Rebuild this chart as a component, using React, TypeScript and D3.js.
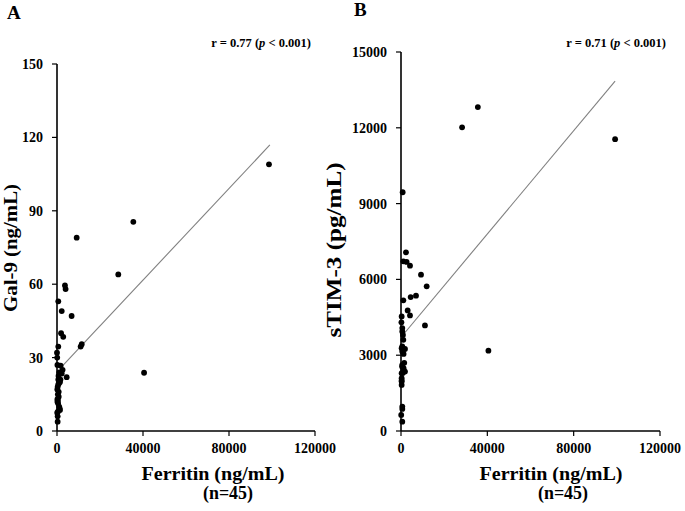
import React from "react";
import * as d3 from "d3";

const xTicks = [0, 40000, 80000, 120000];
const yTicksA = [0, 30, 60, 90, 120, 150];
const yTicksB = [0, 3000, 6000, 9000, 12000, 15000];

const ferritinA = [98600, 35500, 9150, 28500, 3700, 4000, 600, 2200, 6800, 1900, 2900, 11500, 11000, 600, 0, 1700, 2600, 1100, 2200, 40500, 4500, 600, 1400, 600, 150, 400, 800, 200, 500, 1200, 500, 100, 1400, 300, 300, 800, 200, 1000, 300, 700, 200, 900, 400, 1600, 100];
const gal9 = [109, 85.5, 79, 64, 59.5, 58, 53, 49, 47, 40, 38.5, 35.5, 34.5, 34.5, 32, 26.7, 25, 24, 23.5, 23.8, 22, 21, 20, 19, 17, 15, 14, 12, 11.3, 9.3, 8, 7.5, 8.6, 3.8, 18, 16, 13, 10, 6, 22.5, 27, 19.5, 12.5, 21, 30];

const ferritinB = [770, 2300, 1080, 2600, 4170, 9270, 11900, 6950, 4480, 1080, 3090, 4170, 11100, 300, 600, 600, 1080, 300, 1080, 1850, 600, 40500, 600, 1200, 1850, 300, 1080, 300, 300, 300, 600, 600, 100, 600, 99200, 35600, 28300, 500, 800, 1200, 300, 600, 1500, 200, 900];
const stim3 = [9450, 7070, 6716, 6690, 6544, 6187, 5724, 5354, 5300, 5170, 4772, 4574, 4177, 4534, 4072, 3940, 3609, 3280, 3213, 3250, 3146, 3180, 2618, 2485, 2353, 2287, 2419, 2089, 1957, 1824, 965, 873, 635, 370, 11550, 12820, 12020, 2550, 2300, 3050, 2000, 3350, 2700, 4300, 3800];

const trendA = [[2000, 26.1], [99000, 116.9]];
const trendB = [[800, 3790], [99200, 13850]];

const FONT = "'Liberation Serif', 'Times New Roman', serif";

type PanelProps = {
  letter: string;
  letterX: number;
  letterY: number;
  xs: number[];
  ys: number[];
  yTicks: number[];
  yMax: number;
  trend: number[][];
  x0: number;
  x1: number;
  y0: number;
  y1: number;
  yLabel: string;
  yLabelX: number;
  yLabelCy: number;
  yLabelSize: number;
  yLabelLen: number;
  rText: string;
  rEndX: number;
  xLabelCx: number;
  nCx: number;
};

function Panel(p: PanelProps) {
  const x = d3.scaleLinear().domain([0, 120000]).range([p.x0, p.x1]);
  const y = d3.scaleLinear().domain([0, p.yMax]).range([p.y0, p.y1]);
  const line = d3.line<number[]>().x((d) => x(d[0])).y((d) => y(d[1]));
  const [r0, r1] = p.rText.split("|");
  return (
    <g fontFamily={FONT} fontWeight="bold" fill="#000">
      <text x={p.letterX} y={p.letterY} fontSize={19}>{p.letter}</text>
      <text x={p.rEndX} y={47} fontSize={12.5} textAnchor="end">
        {r0}<tspan fontStyle="italic">p</tspan>{r1}
      </text>
      <line x1={p.x0} x2={p.x0} y1={p.y0} y2={p.y1} stroke="#000" strokeWidth={1.6} />
      {p.yTicks.map((t) => (
        <g key={"y" + t}>
          <line x1={p.x0 - 5} x2={p.x0} y1={y(t)} y2={y(t)} stroke="#000" strokeWidth={1.2} />
          <text x={p.x0 - 14} y={y(t) + 5} fontSize={14} textAnchor="end">{t}</text>
        </g>
      ))}
      <line x1={p.x0} x2={p.x1} y1={p.y0} y2={p.y0} stroke="#000" strokeWidth={1.6} />
      {xTicks.map((t) => (
        <g key={"x" + t}>
          <line x1={x(t)} x2={x(t)} y1={p.y0} y2={p.y0 + 5} stroke="#000" strokeWidth={1.2} />
          <text x={x(t)} y={453} fontSize={14} textAnchor="middle">{t}</text>
        </g>
      ))}
      <text x={p.xLabelCx} y={480} fontSize={19} textAnchor="middle" textLength={143} lengthAdjust="spacingAndGlyphs">Ferritin (ng/mL)</text>
      <text x={p.nCx} y={499} fontSize={19} textAnchor="middle" textLength={50} lengthAdjust="spacingAndGlyphs">(n=45)</text>
      <text transform={`translate(${p.yLabelX},${p.yLabelCy}) rotate(-90)`} fontSize={p.yLabelSize} textAnchor="middle"
        textLength={p.yLabelLen} lengthAdjust="spacingAndGlyphs">{p.yLabel}</text>
      <path d={line(p.trend) || ""} stroke="#7f7f7f" strokeWidth={1.1} fill="none" />
      {p.xs.map((v, i) => (
        <circle key={i} cx={x(v)} cy={y(p.ys[i])} r={2.9} fill="#000" />
      ))}
    </g>
  );
}

export default function App() {
  return (
    <svg width={685} height={511} style={{ position: "absolute", left: 0, top: 0, background: "#fff" }}>
      <rect width={685} height={511} fill="#fff" />
      <Panel letter="A" letterX={7} letterY={19} xs={ferritinA} ys={gal9} yTicks={yTicksA} yMax={150}
        trend={trendA} x0={57} x1={315} y0={431} y1={64} yLabel="Gal-9 (ng/mL)" yLabelX={17} yLabelCy={248}
        yLabelSize={18} yLabelLen={128}
        rText="r = 0.77 (| < 0.001)" rEndX={311} xLabelCx={213} nCx={228} />
      <Panel letter="B" letterX={354} letterY={16} xs={ferritinB} ys={stim3} yTicks={yTicksB} yMax={15000}
        trend={trendB} x0={401} x1={660} y0={431} y1={52} yLabel="sTIM-3 (pg/mL)" yLabelX={341} yLabelCy={250}
        yLabelSize={20} yLabelLen={175}
        rText="r = 0.71 (| < 0.001)" rEndX={666} xLabelCx={551} nCx={563} />
    </svg>
  );
}
